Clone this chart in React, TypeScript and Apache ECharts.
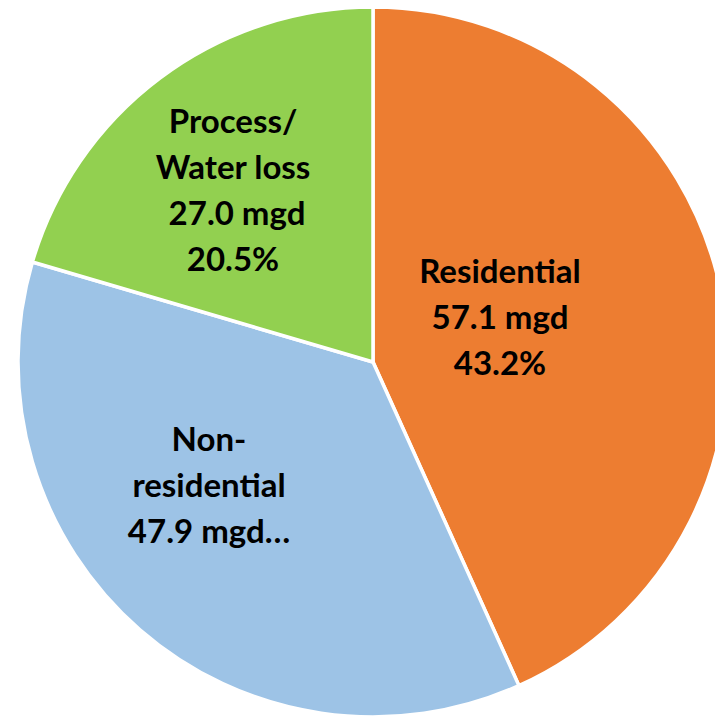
import React, { useEffect, useRef } from "react";
import * as echarts from "echarts";

const categories = ["Residential", "Non-residential", "Process/Water loss"];
const labelNames = ["Residential", "Non-\nresidential", "Process/\nWater loss"];
const valuesMgd = [57.1, 47.9, 27.0];
const sharesPct = [43.2, 36.3, 20.5];
const colors = ["#ED7D31", "#9DC3E6", "#92D050"];
const labelCenters: [number, number][] = [
  [500, 316],
  [209, 484],
  [233, 189],
];

export default function App() {
  const ref = useRef<HTMLDivElement>(null);
  useEffect(() => {
    if (!ref.current) return;
    const chart = echarts.init(ref.current, undefined, { renderer: "svg" });
    chart.setOption({
      animation: false,
      backgroundColor: "#ffffff",
      series: [
        {
          type: "pie",
          center: [373, 362],
          radius: [0, 355],
          startAngle: 90,
          clockwise: true,
          avoidLabelOverlap: false,
          itemStyle: { borderColor: "#ffffff", borderWidth: 3.5 },
          label: {
            show: true,
            position: "inside",
            color: "#000000",
            fontFamily: "Lato",
            fontWeight: "bold",
            fontSize: 33,
            lineHeight: 46,
            align: "center",
            formatter: (p: any) => {
              const i = p.dataIndex;
              const mgd = valuesMgd[i].toFixed(1) + " mgd";
              if (i === 1) return labelNames[i] + "\n" + mgd + "…";
              if (i === 2) return labelNames[i] + "\n " + mgd + "\n" + sharesPct[i].toFixed(1) + "%";
              return labelNames[i] + "\n" + mgd + "\n" + sharesPct[i].toFixed(1) + "%";
            },
          },
          labelLine: { show: false },
          labelLayout: (p: any) => ({
            x: labelCenters[p.dataIndex][0],
            y: labelCenters[p.dataIndex][1],
            align: "center",
            verticalAlign: "middle",
          }),
          data: categories.map((c, i) => ({
            name: c,
            value: valuesMgd[i],
            itemStyle: { color: colors[i] },
          })),
        },
      ],
    });
    return () => chart.dispose();
  }, []);
  return (
    <div
      ref={ref}
      style={{ position: "fixed", left: 0, top: 0, width: 715, height: 717 }}
    />
  );
}
